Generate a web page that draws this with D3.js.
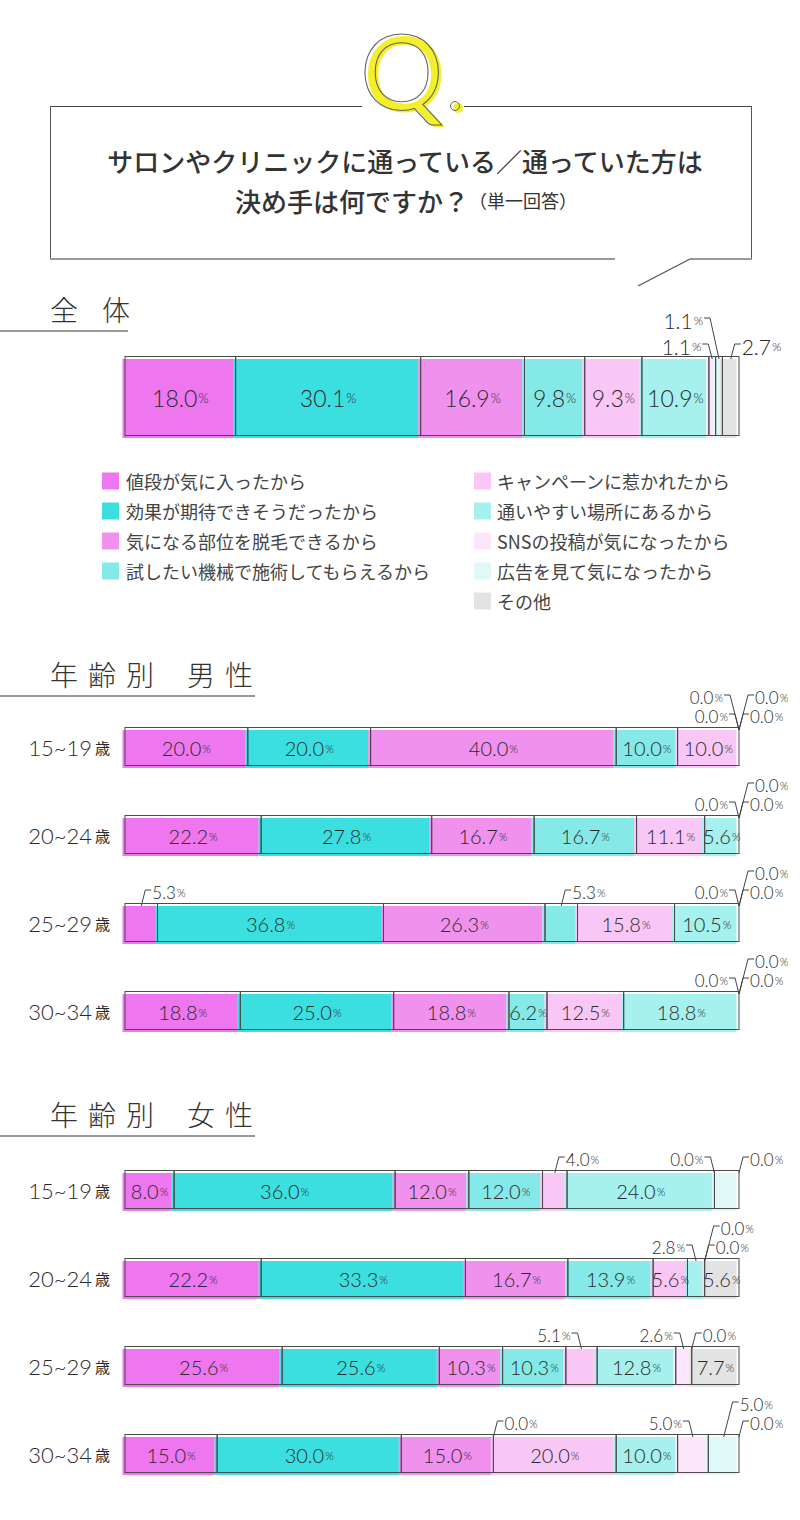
<!DOCTYPE html>
<html><head><meta charset="utf-8">
<script src="https://cdn.jsdelivr.net/npm/d3@7"></script>
<style>body{margin:0;background:#fff} svg{display:block}</style>
</head><body><svg id="c" width="800" height="1520"></svg>
<script>
// ---------- data ----------
const categories = ["値段が気に入ったから","効果が期待できそうだったから","気になる部位を脱毛できるから","試したい機械で施術してもらえるから","キャンペーンに惹かれたから","通いやすい場所にあるから","SNSの投稿が気になったから","広告を見て気になったから","その他"];
const colors = ["#ee76ee","#3cdfdf","#f091ee","#85eae7","#f9c7f6","#a6f0ed","#fce6fb","#e0f8f8","#e3e3e3"];
const overallValues = [18.0,30.1,16.9,9.8,9.3,10.9,1.1,1.1,2.7];
const ageGroups = ["15~19","20~24","25~29","30~34"];
const maleValues = [
  [20.0,20.0,40.0,10.0,10.0,0.0,0.0,0.0,0.0],
  [22.2,27.8,16.7,16.7,11.1,5.6,0.0,0.0,0.0],
  [5.3,36.8,26.3,5.3,15.8,10.5,0.0,0.0,0.0],
  [18.8,25.0,18.8,6.2,12.5,18.8,0.0,0.0,0.0]
];
const femaleValues = [
  [8.0,36.0,12.0,12.0,4.0,24.0,0.0,4.0,0.0],
  [22.2,33.3,16.7,13.9,5.6,2.8,0.0,0.0,5.6],
  [25.6,25.6,10.3,10.3,5.1,12.8,2.6,0.0,7.7],
  [15.0,30.0,15.0,0.0,20.0,10.0,5.0,5.0,0.0]
];
const titleLine1 = "サロンやクリニックに通っている／通っていた方は";
const titleLine2 = "決め手は何ですか？";
const titleNote = "（単一回答）";
const sectionTitles = ["全体", "年齢別", "男性", "女性"];
// callouts: [category index, side, tier]
const overallCallouts = [[6,'L',2],[7,'L',1],[8,'R',2]];
const maleCallouts = [
  [[5,'L',1],[6,'L',2],[7,'R',1],[8,'R',2]],
  [[6,'L',2],[7,'R',1],[8,'R',2]],
  [[0,'R',2],[3,'R',2],[6,'L',2],[7,'R',1],[8,'R',2]],
  [[6,'L',2],[7,'R',1],[8,'R',2]]
];
const femaleCallouts = [
  [[4,'R',2],[6,'L',2],[8,'R',2]],
  [[5,'L',2],[6,'R',1],[7,'R',2]],
  [[4,'L',2],[6,'L',2],[7,'R',2]],
  [[3,'R',2],[6,'L',2],[7,'R',1],[8,'R',2]]
];

// ---------- drawing ----------
const svg = d3.select('#c');
const JP = "'Noto Sans CJK JP','Noto Sans',sans-serif";
const NUM = "'Lato','Roboto',sans-serif";
const INK = "#333";

// Question box
const box = svg.append('g');
box.append('path').attr('d','M50,106.5H752').attr('stroke','#444').attr('fill','none');
box.append('path').attr('d','M50.5,106V259M751.5,106V259').attr('stroke','#555').attr('fill','none');
box.append('path').attr('d','M50,259H615M690,259H752').attr('stroke','#999').attr('stroke-width',2).attr('fill','none');
box.append('path').attr('d','M690,259L638,286').attr('stroke','#555').attr('stroke-width',1.3).attr('fill','none');
box.append('rect').attr('x',362).attr('y',98).attr('width',102).attr('height',16).attr('fill','#fff');
// Q mark
box.append('text').attr('x',363).attr('y',112).text('Q')
  .attr('font-family',"'Lato','DejaVu Sans',sans-serif").attr('font-size',104)
  .attr('fill','#f3ef2c');
box.append('text').attr('x',360).attr('y',110).text('Q')
  .attr('font-family',"'Lato','DejaVu Sans',sans-serif").attr('font-size',104)
  .attr('fill','none').attr('stroke','#666').attr('stroke-width',1.1);
box.append('circle').attr('cx',458).attr('cy',108).attr('r',5).attr('fill','#f3ef2c');
box.append('circle').attr('cx',455).attr('cy',106).attr('r',4.5).attr('fill','none').attr('stroke','#666').attr('stroke-width',1);

box.append('text').attr('x',405).attr('y',160).attr('text-anchor','middle').attr('dominant-baseline','central')
  .attr('font-family',JP).attr('font-size',26).attr('font-weight',500).attr('fill',INK).text(titleLine1);
const t2 = box.append('text').attr('x',406).attr('y',200).attr('text-anchor','middle').attr('dominant-baseline','central')
  .attr('font-family',JP).attr('font-weight',500).attr('fill',INK);
t2.append('tspan').attr('font-size',26).text(titleLine2);
t2.append('tspan').attr('font-size',18).attr('font-weight',400).text(titleNote);

// section headers
function header(parts, baseline, lineEnd, spacing, gap) {
  const t = svg.append('text').attr('x',50).attr('y',baseline)
    .attr('font-family',JP).attr('font-size',28).attr('font-weight',300).attr('fill',INK)
    .attr('letter-spacing',spacing);
  parts.forEach((p,i)=>{ const s=t.append('tspan').text(p); if(i>0) s.attr('dx',gap); });
  svg.append('path').attr('d',`M0,${baseline+10}H${lineEnd}`).attr('stroke','#999').attr('stroke-width',2);
}
header([sectionTitles[0]], 321, 128, 24, 0);
header([sectionTitles[1], sectionTitles[2]], 686, 255, 10, 23);
header([sectionTitles[1], sectionTitles[3]], 1126, 255, 10, 23);

// legend
const legend = svg.append('g');
categories.forEach((c,i)=>{
  const col = i < 4 ? 0 : 1;
  const row = i < 4 ? i : i - 4;
  const sx = col ? 474 : 102, tx = col ? 497 : 126;
  const cy = 481 + row * 30;
  legend.append('rect').attr('x',sx).attr('y',cy-8.5).attr('width',17).attr('height',17).attr('fill',colors[i]);
  legend.append('text').attr('x',tx).attr('y',cy).attr('dominant-baseline','central')
    .attr('font-family',JP).attr('font-size',18).attr('fill','#444').text(c);
});

// bars
const X0 = 125, X1 = 739;
function pctText(sel, v, size, pSize) {
  sel.append('tspan').attr('font-size',size).text(v.toFixed(1));
  sel.append('tspan').attr('font-size',pSize).attr('dx',1).text('%');
}
function drawBar(values, top, h, opts) {
  const total = d3.sum(values);
  const x = d3.scaleLinear().domain([0,total]).range([X0,X1]);
  const g = svg.append('g');
  let cum = 0;
  const segs = values.map((v,i)=>{ const s={i,v,a:cum,b:cum+v}; cum+=v; return s; });
  segs.filter(s=>s.v>0).forEach(s=>{
    g.append('rect').attr('x',x(s.a)-2.5).attr('y',top+3).attr('width',x(s.b)-x(s.a)).attr('height',h)
      .attr('fill',colors[s.i]);
  });
  segs.filter(s=>s.v>0).forEach(s=>{
    g.append('rect').attr('x',x(s.a)).attr('y',top+0.5).attr('width',x(s.b)-x(s.a)).attr('height',h)
      .attr('fill','none').attr('stroke','#4a4a4a').attr('stroke-width',1);
  });
  segs.filter(s=>s.v>=5.5).forEach(s=>{
    const t = g.append('text').attr('x',(x(s.a)+x(s.b))/2).attr('y',top+h/2+2)
      .attr('text-anchor','middle').attr('dominant-baseline','central')
      .attr('font-family',NUM).attr('font-weight',300).attr('fill','#2a2a2a');
    pctText(t, s.v, opts.fs, opts.ps);
  });
  opts.callouts.forEach(([i,side,tier])=>{
    const s = segs[i];
    const ax = s.v>0 ? (x(s.a)+x(s.b))/2 : x(s.a);
    const yt = top - (tier===2 ? opts.t2 : opts.t1);
    const yl = yt - 2;
    const off = tier===1 ? 9 : 4;
    const dir = side==='L' ? -1 : 1;
    const cx = ax + dir*off;
    g.append('path').attr('d',`M${cx+dir*6},${yl}H${cx}L${ax},${top+3}`)
      .attr('fill','none').attr('stroke','#444').attr('stroke-width',1);
    const t = g.append('text').attr('x',cx+dir*7).attr('y',yt)
      .attr('text-anchor', side==='L' ? 'end' : 'start').attr('dominant-baseline','central')
      .attr('font-family',NUM).attr('font-weight',300).attr('fill','#2a2a2a');
    pctText(t, s.v, opts.cfs, opts.cps);
  });
}
drawBar(overallValues, 356, 79, {fs:23, ps:13, cfs:21, cps:12, t1:36, t2:10, callouts:overallCallouts});

function ageLabel(label, cy) {
  const t = svg.append('text').attr('x',110).attr('y',cy).attr('text-anchor','end').attr('dominant-baseline','central')
    .attr('fill','#2a2a2a');
  t.append('tspan').attr('font-family',NUM).attr('font-weight',300).attr('font-size',22).text(label);
  t.append('tspan').attr('font-family',JP).attr('font-size',15).attr('dx',3).text('歳');
}
const maleTops = [727, 815, 903, 991];
const femaleTops = [1170, 1258, 1346, 1434];
ageGroups.forEach((a,k)=>{
  ageLabel(a, maleTops[k]+20);
  drawBar(maleValues[k], maleTops[k], 38, {fs:20, ps:11, cfs:17, cps:11, t1:30, t2:11, callouts:maleCallouts[k]});
  ageLabel(a, femaleTops[k]+20);
  drawBar(femaleValues[k], femaleTops[k], 38, {fs:20, ps:11, cfs:17, cps:11, t1:30, t2:11, callouts:femaleCallouts[k]});
});
</script>
</body></html>
